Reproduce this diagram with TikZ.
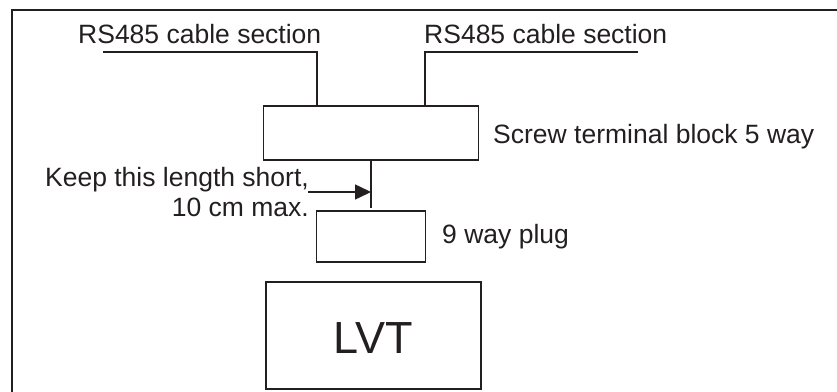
\documentclass[tikz,border=0pt]{standalone}
\usepackage{fontspec}
\setmainfont{Liberation Sans}
\usetikzlibrary{arrows.meta}
\definecolor{ink}{RGB}{35,31,32}
\begin{document}
\begin{tikzpicture}[x=1pt,y=-1pt,
  box/.style={draw=ink,line width=1.5pt,rectangle,inner sep=0pt},
  lbl/.style={text=ink,inner sep=0pt,font=\fontsize{26.5}{30}\selectfont},
  wire/.style={draw=ink,line width=1.5pt}]
\useasboundingbox (0,0) rectangle (837,391);
% frame
\draw[ink,line width=2.6pt] (12,395) -- (12,10) -- (840,10);
% boxes
\node[box,minimum width=215pt,minimum height=54pt] (blk) at (371,133) {};
\node[box,minimum width=109pt,minimum height=51pt] (plug) at (371,236.5) {};
\node[box,minimum width=215pt,minimum height=107pt] (lvt) at (373.5,335.5) {};
% labels
\node[lbl,anchor=base west] (t1) at (78,43) {RS485 cable section};
\node[lbl,anchor=base west] (t2) at (424,43) {RS485 cable section};
\node[lbl,anchor=base west] (t3) at (493,143) {Screw terminal block 5 way};
\node[lbl,anchor=base east] (t4) at (309,186) {Keep this length short,};
\node[lbl,anchor=base east] (t5) at (309,216.5) {10 cm max.};
\node[lbl,anchor=base west] (t6) at (442,243) {9 way plug};
\node[text=ink,inner sep=0pt,anchor=base,font=\fontsize{45}{50}\selectfont] (t7) at (373,353) {LVT};
% cables
\coordinate (c1) at (103,52);
\coordinate (c1b) at (317,52);
\coordinate (c2) at (638,52);
\coordinate (c2b) at (425,52);
\draw[wire] (c1) -- (c1b) -- (c1b |- blk.north);
\draw[wire] (c2) -- (c2b) -- (c2b |- blk.north);
% link
\draw[wire] (blk.south) -- ([yshift=2pt]plug.north);
\coordinate (a0) at (308,192);
\draw[wire,-{Triangle[length=16pt,width=15pt]}] (a0) -- (a0 -| blk.south);
\end{tikzpicture}
\end{document}
